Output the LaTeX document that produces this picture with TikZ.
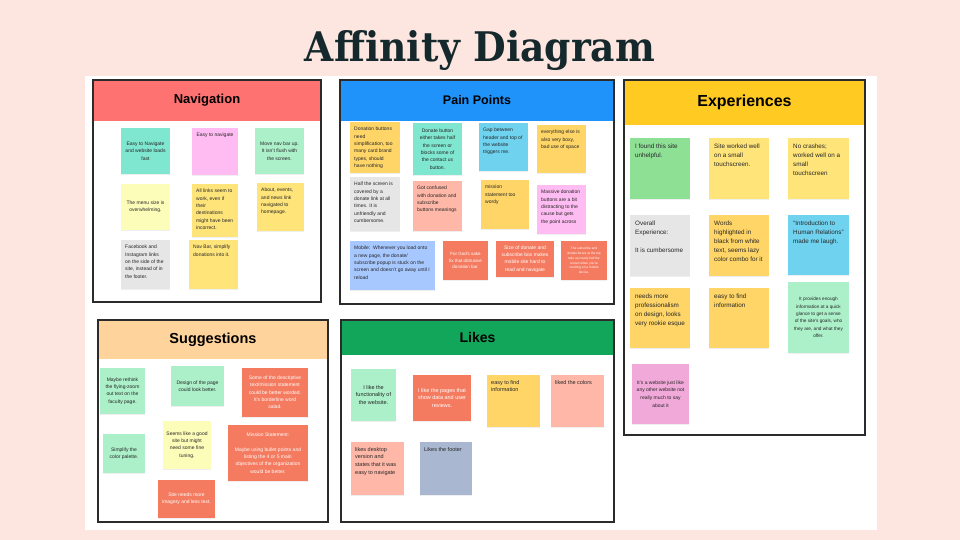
\documentclass[tikz,border=0pt]{standalone}
\usepackage{fontspec}
\setmainfont{Liberation Sans}
\newfontfamily\titlefont{DejaVu Serif}
\usepackage{graphicx}
\usetikzlibrary{shadows}

% palette
\definecolor{pagebg}{HTML}{FDE5E0}
\definecolor{titleink}{HTML}{15292D}
\definecolor{frame}{HTML}{2B2B2B}
\definecolor{ink}{HTML}{262626}
\definecolor{navred}{HTML}{FF7272}
\definecolor{painblue}{HTML}{1F93FA}
\definecolor{expgold}{HTML}{FFCB22}
\definecolor{sugpeach}{HTML}{FFD39C}
\definecolor{likegreen}{HTML}{12A65B}
\definecolor{cteal}{HTML}{7FE6CF}
\definecolor{cmint}{HTML}{ABF0C9}
\definecolor{cpink}{HTML}{FFBCF2}
\definecolor{cpinkb}{HTML}{F1A9DA}
\definecolor{clyellow}{HTML}{FDFDBA}
\definecolor{cyellow}{HTML}{FFE47A}
\definecolor{camber}{HTML}{FFD567}
\definecolor{cgrey}{HTML}{E6E6E6}
\definecolor{csalmon}{HTML}{FFB8A8}
\definecolor{ccoral}{HTML}{F47B60}
\definecolor{clblue}{HTML}{A7C8FF}
\definecolor{csky}{HTML}{6FD3F0}
\definecolor{cgreen}{HTML}{8EE095}
\definecolor{cslate}{HTML}{A9B8D0}

\tikzset{
  notebox/.style={rectangle, draw=none, inner sep=0pt, outer sep=0pt,
    drop shadow={opacity=0.12, shadow xshift=0.4pt, shadow yshift=-0.8pt}},
  nt/.style={inner sep=0pt, text=ink, align=left, font=\fontsize{5}{7.3}\selectfont},
  ntc/.style={nt, align=center},
  wtext/.style={text=white},
  expfont/.style={font=\fontsize{6.3}{9}\selectfont, xshift=1pt, yshift=-1pt},
  likefont/.style={font=\fontsize{5.5}{7.8}\selectfont},
  panelbox/.style={rectangle, fill=white, inner sep=0pt, outer sep=0pt},
  headbox/.style={rectangle, inner sep=0pt, outer sep=0pt},
  panelframe/.style={draw=frame, line width=1.5pt},
}

% sticky note: name, x1, y1, x2, y2, fill, text options, text
\newcommand\notebg[6]{%
  \node[notebox, fill=#6, minimum width={#4pt-#2pt}, minimum height={#5pt-#3pt},
        anchor=north west] (#1) at (#2,#3) {};}
% text centred in the note
\newcommand\stickyc[8]{\notebg{#1}{#2}{#3}{#4}{#5}{#6}%
  \node[ntc,#7] (#1t) at (#1.center) {#8};}
% text in the top left corner
\newcommand\stickyl[8]{\notebg{#1}{#2}{#3}{#4}{#5}{#6}%
  \node[nt, anchor=north west, xshift=4pt, yshift=-5pt, #7] (#1t) at (#1.north west) {#8};}
% text centred along the top edge
\newcommand\stickyt[8]{\notebg{#1}{#2}{#3}{#4}{#5}{#6}%
  \node[ntc, anchor=north, yshift=-5pt, #7] (#1t) at (#1.north) {#8};}

% panel: name, x1, y1, x2, y2, header bottom, header colour, title, title size
\newcommand\panel[9]{%
  \node[panelbox, minimum width={#4pt-#2pt}, minimum height={#5pt-#3pt},
        anchor=north west] (#1) at (#2,#3) {};
  \node[headbox, fill=#7, minimum width={#4pt-#2pt}, minimum height={#6pt-#3pt},
        anchor=north west] (#1h) at (#2,#3) {};
  \node[inner sep=0pt, text=black, font=\bfseries\fontsize{#9}{#9}\selectfont]
        (#1title) at (#1h.center) {#8};
  \draw[panelframe] (#1.north west) rectangle (#1.south east);}

\begin{document}
\begin{tikzpicture}[x=1pt, y=-1pt]
\useasboundingbox (0,0) rectangle (960,540);
\fill[pagebg] (0,0) rectangle (960,540);

% heading
\node[anchor=base, inner sep=0pt, text=titleink] (heading) at (480,62)
  {\resizebox{350pt}{31pt}{\titlefont\bfseries Affinity Diagram}};

% white board
\node[panelbox, minimum width=792pt, minimum height=454pt, anchor=north west] (board) at (85,76) {};

% ---------- Navigation ----------
\panel{nav}{93}{80}{321}{302}{121}{navred}{Navigation}{13}
\stickyc{n1}{121}{128}{170}{174}{cteal}{}{Easy to Navigate\\and website loads\\fast}
\stickyt{n2}{192}{128}{238}{175}{cpink}{}{Easy to navigate}
\stickyc{n3}{255}{128}{304}{174}{cmint}{}{Move nav bar up.\\It isn't flush with\\the screen.}
\stickyc{n4}{121}{184}{170}{230}{clyellow}{}{The menu size is\\overwhelming.}
\stickyl{n5}{192}{184}{238}{237}{cyellow}{}{All links seem to\\work, even if\\their\\destinations\\might have been\\incorrect.}
\stickyl{n6}{257}{183}{304}{231}{cyellow}{}{About, events,\\and news link\\navigated to\\homepage.}
\stickyl{n7}{121}{240}{170}{289}{cgrey}{}{Facebook and\\Instagram links\\on the side of the\\site, instead of in\\the footer.}
\stickyl{n8}{189}{240}{238}{289}{cyellow}{}{Nav Bar, simplify\\donations into it.}

% ---------- Pain Points ----------
\panel{pain}{340}{80}{614}{304}{121}{painblue}{Pain Points}{12.5}
\stickyl{p1}{350}{122}{400}{173}{camber}{}{Donation buttons\\need\\simplification, too\\many card brand\\types, should\\have nothing}
\stickyc{p2}{413}{123}{462}{175}{cteal}{}{Donate button\\either takes half\\the screen or\\blocks some of\\the contact us\\button.}
\stickyl{p3}{350}{177}{400}{231}{cgrey}{}{Half the screen is\\covered by a\\donate link at all\\times. It is\\unfriendly and\\cumbersome.}
\stickyl{p4}{413}{181}{462}{231}{csalmon}{}{Got confused\\with donation and\\subscribe\\buttons meanings}
\stickyl{p5}{350}{241}{435}{290}{clblue}{}{Mobile:\ \ Whenever you load onto\\a new page, the donate/\\subscribe popup is stuck on the\\screen and doesn't go away until I\\reload}
\stickyc{p6}{443}{241}{488}{280}{ccoral}{wtext, font=\fontsize{4.5}{6.8}\selectfont}{For God's sake\\fix that obtrusive\\donation bar.}
\stickyl{p7}{479}{123}{528}{171}{csky}{}{Gap between\\header and top of\\the website\\triggers me.}
\stickyl{p8}{537}{125}{586}{173}{camber}{}{everything else is\\also very boxy,\\bad use of space}
\stickyl{p9}{481}{180}{529}{229}{camber}{}{mission\\statement too\\wordy}
\stickyl{p10}{537}{185}{586}{234}{cpink}{}{Massive donation\\buttons are a bit\\distracting to the\\cause but gets\\the point across}
\stickyc{p11}{496}{241}{554}{277}{ccoral}{wtext}{Size of donate and\\subscribe box makes\\mobile site hard to\\read and navigate}
\stickyc{p12}{561}{241}{607}{280}{ccoral}{wtext, font=\fontsize{3.2}{4.8}\selectfont}{The subscribe and\\donate boxes at the top\\take up nearly half the\\screen when you're\\scrolling on a mobile\\device.}

% ---------- Experiences ----------
\panel{exp}{624}{80}{865}{435}{125}{expgold}{Experiences}{16}
\stickyl{e1}{630}{138}{690}{199}{cgreen}{expfont}{I found this site\\unhelpful.}
\stickyl{e2}{709}{138}{769}{199}{cyellow}{expfont}{Site worked well\\on a small\\touchscreen.}
\stickyl{e3}{788}{138}{849}{199}{cyellow}{expfont}{No crashes;\\worked well on a\\small\\touchscreen}
\stickyl{e4}{630}{215}{690}{276}{cgrey}{expfont}{Overall\\Experience:\\[9pt]It is cumbersome}
\stickyl{e5}{709}{215}{769}{276}{camber}{expfont}{Words\\highlighted in\\black from white\\text, seems lazy\\color combo for it}
\stickyl{e6}{788}{215}{849}{275}{csky}{expfont}{``Introduction to\\Human Relations''\\made me laugh.}
\stickyl{e7}{630}{288}{690}{348}{camber}{expfont}{needs more\\professionalism\\on design, looks\\very rookie esque}
\stickyl{e8}{709}{288}{769}{348}{camber}{expfont}{easy to find\\information}
\stickyc{e9}{788}{282}{849}{353}{cmint}{font=\fontsize{4.7}{7.3}\selectfont}{It provides enough\\information at a quick\\glance to get a sense\\of the site's goals, who\\they are, and what they\\offer.}
\stickyc{e10}{632}{364}{689}{424}{cpinkb}{font=\fontsize{5}{7.7}\selectfont}{It's a website just like\\any other website not\\really much to say\\about it}

% ---------- Suggestions ----------
\panel{sug}{98}{320}{328}{522}{359}{sugpeach}{Suggestions}{14.5}
\stickyc{s1}{100}{368}{145}{414}{cmint}{}{Maybe rethink\\the flying-zoom\\out text on the\\faculty page.}
\stickyc{s2}{171}{366}{224}{406}{cmint}{}{Design of the page\\could look better.}
\stickyc{s3}{242}{368}{308}{417}{ccoral}{wtext}{Some of the descriptive\\text/mission statement\\could be better worded.\\It's borderline word\\salad.}
\stickyc{s4}{103}{434}{145}{473}{cmint}{}{Simplify the\\color palette.}
\stickyc{s5}{163}{421}{211}{469}{clyellow}{}{Seems like a good\\site but might\\need some fine\\tuning.}
\stickyc{s6}{228}{425}{308}{481}{ccoral}{wtext}{Mission Statement:\\[7.5pt]Maybe using bullet points and\\listing the 4 or 5 main\\objectives of the organization\\would be better.}
\stickyc{s7}{158}{480}{215}{518}{ccoral}{wtext}{Site needs more\\imagery and less text.}

% ---------- Likes ----------
\panel{like}{341}{320}{614}{522}{355}{likegreen}{Likes}{14}
\stickyc{l1}{351}{369}{396}{421}{cmint}{likefont}{I like the\\functionality of\\the website.}
\stickyc{l2}{413}{375}{471}{421}{ccoral}{wtext, likefont}{I like the pages that\\show data and user\\reviews.}
\stickyl{l3}{487}{375}{540}{427}{camber}{likefont}{easy to find\\information}
\stickyl{l4}{551}{375}{604}{427}{csalmon}{likefont}{liked the colors}
\stickyl{l5}{351}{442}{404}{495}{csalmon}{likefont}{likes desktop\\version and\\states that it was\\easy to navigate}
\stickyl{l6}{420}{442}{472}{495}{cslate}{likefont}{Likes the footer}
\end{tikzpicture}
\end{document}
